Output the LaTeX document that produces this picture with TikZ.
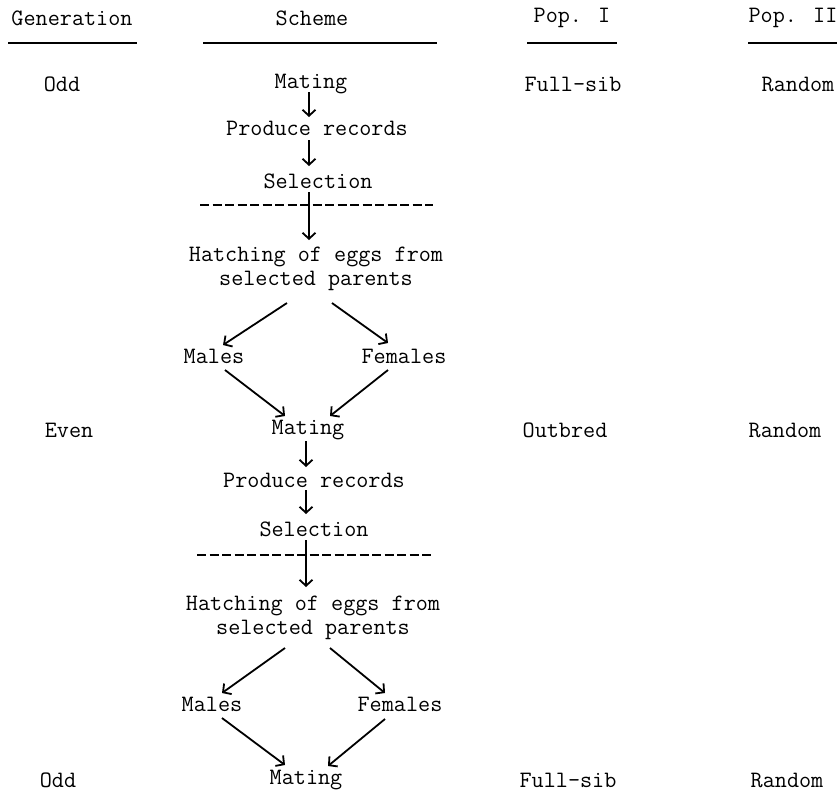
\documentclass[tikz,border=0pt]{standalone}
\usepackage{fontspec}
\usetikzlibrary{arrows.meta}

\begin{document}
\begin{tikzpicture}[x=1pt,y=-1pt,
  every node/.style={font=\ttfamily\fontsize{23.5}{24}\selectfont, inner sep=0pt},
  arr/.style={line width=1.8pt, -{Straight Barb[length=6pt,width=13pt,line width=1.8pt]}},
  rule/.style={line width=1.7pt},
  cut/.style={line width=1.2pt, dash pattern=on 9pt off 3.5pt}]

\useasboundingbox (0,0) rectangle (837,793);

% headings
\node (gen) at (72,18) {Generation};
\node (sch) at (312,18) {Scheme};
\node (pop1) at (572,18) {Pop. I};
\node (pop2) at (793,18) {Pop. II};

\draw [rule] (8,43) -- (137,43);
\draw [rule] (203,43) -- (437,43);
\draw [rule] (527,43) -- (617,43);
\draw [rule] (748,43) -- (837,43);

% odd generation
\node (odd1) at (62,84) {Odd};
\node (mat1) at (311,84) {Mating};
\node (fs1) at (573,84) {Full-sib};
\node (rn1) at (798,84) {Random};

\node (rec1) at (317,128) {Produce records};
\node (sel1) at (318,181) {Selection};
\node (hat1) at (316,269) [align=center] {Hatching of eggs from\\selected parents};
\node (mal1) at (214,356) {Males};
\node (fem1) at (404,356) {Females};

\coordinate (cl1) at (200,205);
\coordinate (cr1) at (433,205);
\draw [cut] (cl1) -- (cr1);

\draw [arr] ([shift={(-2,8)}]mat1.center) -- ([shift={(-8,-11)}]rec1.center);
\draw [arr] ([shift={(-8,12)}]rec1.center) -- ([shift={(-9,-15)}]sel1.center);
\draw [arr] ([shift={(-9,11)}]sel1.center) -- ([shift={(-7,-29)}]hat1.center);

\draw [arr] ([shift={(-29,34)}]hat1.center) -- ([shift={(9,-11)}]mal1.center);
\draw [arr] ([shift={(16,34)}]hat1.center) -- ([shift={(-16,-13)}]fem1.center);

% even generation
\node (even) at (69,430) {Even};
\node (mat2) at (308,430) {Mating};
\node (ob) at (565,430) {Outbred};
\node (rn2) at (785,430) {Random};

\draw [arr] ([shift={(11,14)}]mal1.center) -- ([shift={(-23,-14)}]mat2.center);
\draw [arr] ([shift={(-16,14)}]fem1.center) -- ([shift={(22,-14)}]mat2.center);

\node (rec2) at (314,480) {Produce records};
\node (sel2) at (314,529) {Selection};
\node (hat2) at (313,618) [align=center] {Hatching of eggs from\\selected parents};
\node (mal2) at (212,704) {Males};
\node (fem2) at (400,704) {Females};

\coordinate (cl2) at (197,555);
\coordinate (cr2) at (432,555);
\draw [cut] (cl2) -- (cr2);

\draw [arr] ([shift={(-2,11)}]mat2.center) -- ([shift={(-8,-13)}]rec2.center);
\draw [arr] ([shift={(-8,10)}]rec2.center) -- ([shift={(-8,-15)}]sel2.center);
\draw [arr] ([shift={(-8,11)}]sel2.center) -- ([shift={(-7,-31)}]hat2.center);

\draw [arr] ([shift={(-28,30)}]hat2.center) -- ([shift={(10,-11)}]mal2.center);
\draw [arr] ([shift={(17,30)}]hat2.center) -- ([shift={(-15,-11)}]fem2.center);

% next odd generation
\node (odd2) at (58,780) {Odd};
\node (mat3) at (306,780) {Mating};
\node (fs2) at (568,780) {Full-sib};
\node (rn3) at (787,780) {Random};

\draw [arr] ([shift={(10,14)}]mal2.center) -- ([shift={(-21,-15)}]mat3.center);
\draw [arr] ([shift={(-15,15)}]fem2.center) -- ([shift={(22,-14)}]mat3.center);

\end{tikzpicture}
\end{document}
